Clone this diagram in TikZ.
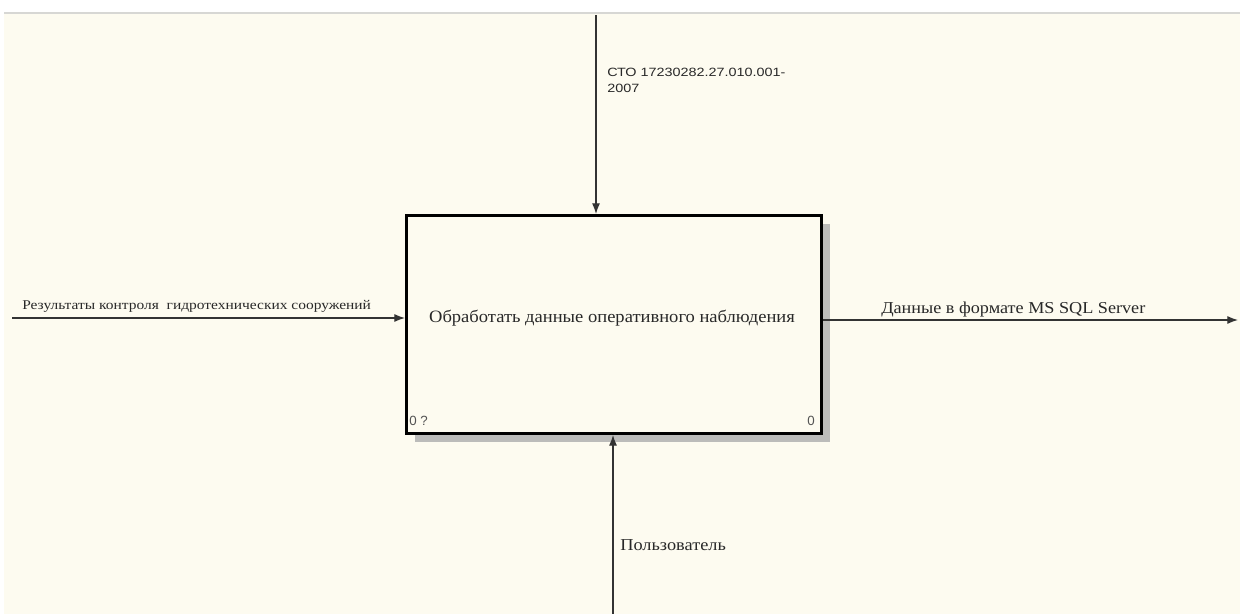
\documentclass[tikz,border=0pt]{standalone}
\usepackage{fontspec}
\setmainfont{Liberation Serif}
\newfontfamily\lsans{Liberation Sans}
\usetikzlibrary{arrows.meta}
\definecolor{cream}{RGB}{253,251,240}
\definecolor{shadowgray}{RGB}{188,188,186}
\definecolor{linegray}{RGB}{215,215,212}
\definecolor{txt}{RGB}{40,40,40}
\begin{document}
\begin{tikzpicture}[x=0.75pt,y=-0.75pt,
  arrowline/.style={draw=black!80,line width=0.9pt,-{Latex[length=8pt,width=6pt]}},
  lbl/.style={inner sep=0pt,text=txt,anchor=base west},
  corner/.style={inner sep=0pt,text=txt!80,font=\lsans\fontsize{10}{11}\selectfont}]
\useasboundingbox (0,0) rectangle (1240,614);
\fill[white] (0,0) rectangle (1240,614);
\fill[cream] (4,14) rectangle (1240,614);
\draw[linegray,line width=1.5pt] (4,13) -- (1240,13);
% shadow
\fill[shadowgray] (415,224) rectangle (830,442);
% box
\node[draw=black,line width=2.2pt,fill=cream,minimum width=415*0.75pt,minimum height=218*0.75pt,inner sep=0pt,anchor=north west] (box) at (405,214) {};
\node[inner sep=0pt,text=txt,font=\addfontfeature{FakeStretch=1.07}\fontsize{13}{15}\selectfont] (title) at (612,318) {Обработать данные оперативного наблюдения};
\node[corner,anchor=base west] (c1) at (409,425) {0 ?};
\node[corner,anchor=base east] (c2) at (815,425) {0};
% coordinates
\coordinate (ctop) at (596,15);
\coordinate (cleft) at (12,318);
\coordinate (cright) at (1238,320);
\coordinate (cbot) at (613,614);
\draw[arrowline] (ctop) -- (ctop |- box.north);
\draw[arrowline] (cleft) -- (cleft -| box.west);
\draw[arrowline] (box.east |- cright) -- (cright);
\draw[arrowline] (cbot) -- (cbot |- box.south);
% labels
\node[lbl,font=\lsans\addfontfeature{FakeStretch=1.2}\fontsize{9}{12}\selectfont,align=left,anchor=base west] (ltop) at (607,92) {СТО 17230282.27.010.001-\\2007};
\node[lbl,font=\addfontfeature{FakeStretch=1.16}\fontsize{10}{12}\selectfont] (lleft) at (22,309) {Результаты контроля\ \ гидротехнических сооружений};
\node[lbl,font=\addfontfeature{FakeStretch=1.09}\fontsize{12.5}{14}\selectfont] (lright) at (881,313) {Данные в формате MS SQL Server};
\node[lbl,font=\addfontfeature{FakeStretch=1.1}\fontsize{12.5}{14}\selectfont] (lbot) at (620,550) {Пользователь};
\end{tikzpicture}
\end{document}
